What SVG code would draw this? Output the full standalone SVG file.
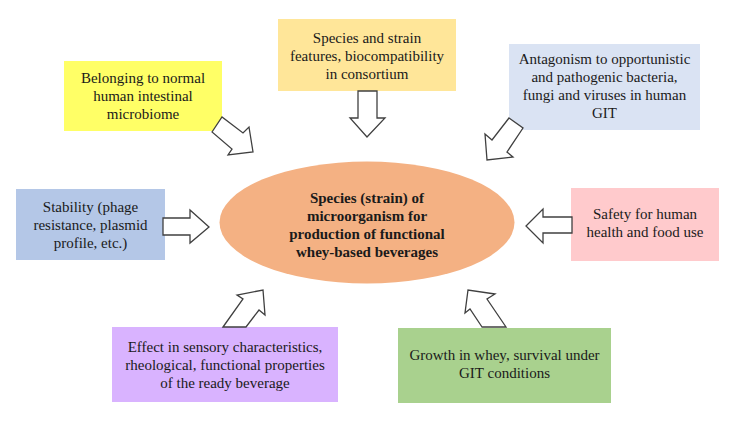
<svg xmlns="http://www.w3.org/2000/svg" width="735" height="429" viewBox="0 0 735 429" font-family="Liberation Serif, Tinos, DejaVu Serif, Noto Serif, serif">
<style>
text{font-size:15px;fill:#1a1a1a;text-anchor:middle}
.b{font-weight:bold}
.arr{fill:#fff;stroke:#404040;stroke-width:1.3;stroke-linejoin:miter}
</style>
<rect width="735" height="429" fill="#fff"/>
<g id="center">
<ellipse cx="367" cy="222.5" rx="147.5" ry="61" fill="#F4B183"/>
<text class="b" x="367" y="203">Species (strain) of</text>
<text class="b" x="367" y="221">microorganism for</text>
<text class="b" x="367" y="239">production of functional</text>
<text class="b" x="367" y="257">whey-based beverages</text>
</g>
<g id="n-belonging">
<rect x="64" y="61" width="158" height="70" fill="#FFFF66"/>
<text x="143" y="83">Belonging to normal</text>
<text x="143" y="101">human intestinal</text>
<text x="143" y="119">microbiome</text>
</g>
<g id="n-species">
<rect x="278" y="19" width="178" height="72" fill="#FFE699"/>
<text x="367" y="43">Species and strain</text>
<text x="367" y="61">features, biocompatibility</text>
<text x="367" y="79">in consortium</text>
</g>
<g id="n-antagonism">
<rect x="509" y="44" width="191" height="86" fill="#DAE3F3"/>
<text x="604.5" y="64">Antagonism to opportunistic</text>
<text x="604.5" y="82">and pathogenic bacteria,</text>
<text x="604.5" y="100">fungi and viruses in human</text>
<text x="604.5" y="118">GIT</text>
</g>
<g id="n-stability">
<rect x="16" y="189" width="149" height="71" fill="#B4C7E7"/>
<text x="90.5" y="212">Stability (phage</text>
<text x="90.5" y="230">resistance, plasmid</text>
<text x="90.5" y="248">profile, etc.)</text>
</g>
<g id="n-safety">
<rect x="571" y="188" width="148" height="73" fill="#FFCACC"/>
<text x="645" y="219">Safety for human</text>
<text x="645" y="237">health and food use</text>
</g>
<g id="n-effect">
<rect x="112" y="327" width="226" height="75" fill="#D9B3FF"/>
<text x="225" y="352">Effect in sensory characteristics,</text>
<text x="225" y="370">rheological, functional properties</text>
<text x="225" y="388">of the ready beverage</text>
</g>
<g id="n-growth">
<rect x="398" y="328" width="213" height="75" fill="#A9D18E"/>
<text x="504.5" y="360">Growth in whey, survival under</text>
<text x="504.5" y="378">GIT conditions</text>
</g>
<g id="connectors">
<polygon class="arr" points="212,132 222,117 243,133 249,127 253,152 228,155 232,149"/>
<polygon class="arr" points="358,91 377,91 377,118 385,118 367,137 350,118 358,118"/>
<polygon class="arr" points="509,118 523,128 507,152 513,157 487,160 485,134 492,140"/>
<polygon class="arr" points="163,218 190,218 190,210 209,227 190,243 190,235 163,235"/>
<polygon class="arr" points="572,217 543,217 543,209 526,226 543,243 543,233 572,233"/>
<polygon class="arr" points="223,327 243,299 237,295 263,290 265,315 259,310 246,327"/>
<polygon class="arr" points="482,327 470,309 465,313 468,290 495,294 487,299 506,327"/>
</g>
</svg>
